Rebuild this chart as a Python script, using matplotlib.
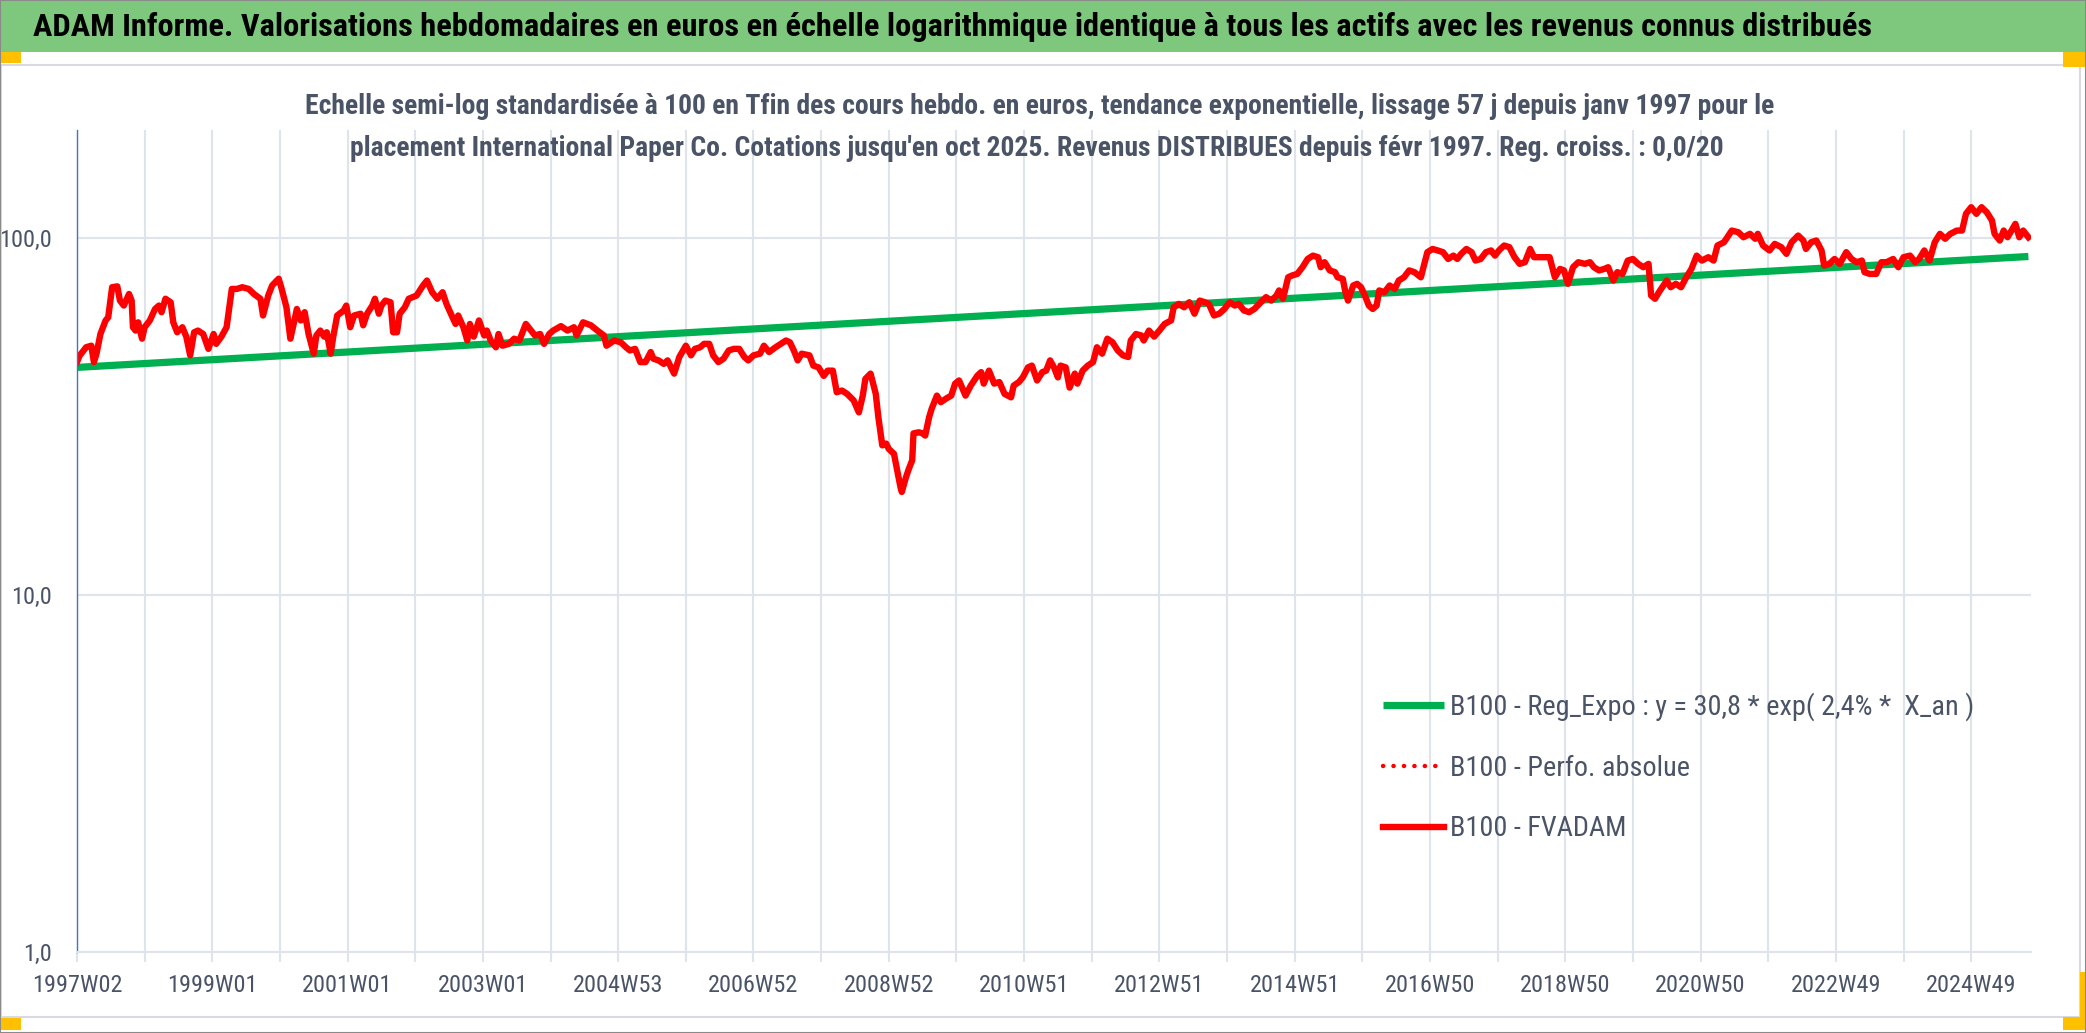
import matplotlib
matplotlib.use("Agg")
import matplotlib.pyplot as plt
from matplotlib import font_manager as fm
from matplotlib.patches import Rectangle
from matplotlib.ticker import NullLocator


def pick_font(names):
    for n in names:
        try:
            fm.findfont(fm.FontProperties(family=n), fallback_to_default=False)
            return n
        except ValueError:
            pass
    return "DejaVu Sans"


FONT = pick_font(["Liberation Sans Narrow", "Roboto Condensed", "Lato"])
plt.rcParams["font.family"] = [FONT, "DejaVu Sans"]

# ---- donnees (semaines depuis 1997W02, valeur base 100) ----
weeks = [0, 2, 7, 11, 13, 15, 18, 22, 24, 27, 31, 33, 36, 40, 42, 43, 45, 47, 50, 52,
         56, 60, 63, 65, 68, 72, 74, 77, 81, 84, 87, 90, 93, 97, 101, 105, 107, 111, 115, 119,
         123, 127, 132, 136, 141, 143, 147, 150, 155, 157, 161, 164, 166, 169, 172, 175, 178, 182, 184, 187,
         190, 192, 195, 197, 200, 205, 207, 210, 213, 218, 220, 223, 227, 229, 232, 234, 237, 241, 243, 246,
         248, 252, 255, 261, 266, 269, 273, 277, 281, 284, 288, 291, 293, 297, 300, 302, 305, 309, 313, 315,
         318, 322, 324, 327, 332, 336, 340, 345, 348, 352, 356, 359, 363, 366, 372, 377, 382, 384, 389, 395,
         400, 405, 407, 413, 418, 422, 425, 429, 433, 437, 441, 443, 447, 451, 454, 459, 463, 468, 472, 475,
         479, 482, 486, 489, 493, 497, 501, 505, 509, 513, 516, 520, 525, 528, 532, 537, 541, 545, 548, 551,
         554, 557, 563, 566, 570, 574, 577, 581, 584, 588, 592, 597, 601, 604, 606, 610, 614, 616, 619, 622,
         624, 628, 631, 633, 634, 637, 639, 642, 643, 647, 650, 652, 655, 657, 661, 664, 668, 672, 675, 678,
         683, 687, 692, 695, 697, 701, 705, 709, 713, 718, 720, 724, 727, 731, 734, 738, 742, 745, 748, 751,
         754, 756, 760, 763, 767, 769, 773, 777, 781, 784, 788, 792, 796, 800, 804, 808, 810, 814, 818, 820,
         824, 828, 832, 836, 841, 843, 847, 851, 855, 859, 863, 867, 870, 874, 878, 882, 886, 890, 893, 897,
         901, 905, 910, 914, 918, 922, 924, 927, 931, 934, 938, 942, 946, 950, 954, 956, 959, 963, 967, 969,
         973, 975, 977, 981, 984, 987, 990, 993, 996, 999, 1001, 1005, 1009, 1013, 1016, 1020, 1024, 1028, 1033, 1038,
         1042, 1046, 1050, 1054, 1058, 1061, 1064, 1068, 1072, 1075, 1079, 1083, 1087, 1090, 1093, 1097, 1101, 1105, 1109, 1113,
         1117, 1120, 1125, 1132, 1136, 1140, 1143, 1146, 1150, 1154, 1159, 1163, 1166, 1170, 1174, 1177, 1181, 1184, 1188, 1192,
         1196, 1200, 1204, 1208, 1210, 1213, 1216, 1222, 1225, 1229, 1233, 1237, 1241, 1245, 1249, 1254, 1258, 1261, 1266, 1272,
         1277, 1281, 1286, 1290, 1292, 1296, 1301, 1305, 1310, 1314, 1318, 1323, 1327, 1329, 1333, 1337, 1341, 1343, 1347, 1351,
         1355, 1360, 1364, 1368, 1372, 1374, 1378, 1383, 1387, 1391, 1396, 1400, 1404, 1409, 1413, 1416, 1420, 1424, 1428, 1432,
         1436, 1440, 1445, 1449, 1452, 1456, 1460, 1464, 1468, 1472, 1474, 1478, 1481, 1484, 1490, 1493, 1496, 1500]

fvadam = [44.8, 46.7, 49.3, 49.8, 44.8, 47.3, 53.7, 58.6, 59.8, 72.6, 73.0, 66.6, 64.5, 69.5, 66.6, 56.1, 54.9, 57.9, 52.1, 56.1,
          58.6, 63.1, 64.5, 61.8, 67.4, 65.9, 57.9, 54.3, 56.1, 52.8, 46.8, 54.3, 54.9, 53.7, 48.8, 53.7, 50.4, 52.8, 56.1, 71.8,
          71.8, 72.6, 71.8, 69.5, 67.4, 60.5, 68.8, 73.4, 76.7, 72.6, 63.8, 52.1, 56.1, 63.1, 58.6, 61.8, 53.7, 47.3, 53.2, 54.9,
          52.8, 54.3, 47.3, 52.8, 60.5, 62.5, 64.5, 56.1, 60.5, 61.2, 56.8, 61.2, 64.5, 67.4, 61.2, 64.5, 66.6, 65.9, 54.3, 54.3,
          61.2, 63.8, 67.4, 68.8, 73.4, 75.8, 70.3, 67.4, 70.3, 65.2, 60.5, 57.3, 60.5, 56.1, 51.5, 57.3, 52.8, 58.6, 53.2, 54.9,
          51.5, 49.3, 53.7, 49.8, 50.4, 52.1, 51.5, 57.3, 55.5, 53.2, 53.7, 50.4, 53.7, 54.9, 56.5, 54.9, 56.1, 53.2, 57.9, 56.8,
          54.9, 53.2, 49.8, 51.5, 50.9, 49.3, 48.3, 48.8, 44.8, 44.8, 47.8, 45.8, 45.3, 44.3, 45.3, 41.6, 46.3, 49.8, 46.8, 48.8,
          49.3, 50.4, 50.4, 46.8, 44.8, 45.8, 48.3, 48.8, 48.8, 46.3, 45.3, 46.8, 47.3, 49.8, 47.8, 49.3, 50.4, 51.5, 50.9, 48.3,
          45.3, 47.3, 46.8, 43.8, 43.3, 41.0, 42.4, 42.4, 36.9, 37.3, 36.5, 35.0, 32.4, 36.1, 40.2, 41.6, 36.5, 31.4, 26.2, 26.5,
          25.6, 24.8, 21.8, 20.0, 19.4, 21.2, 22.3, 23.8, 28.3, 28.5, 28.3, 27.9, 31.4, 33.2, 36.1, 34.6, 35.4, 36.1, 39.0, 39.8,
          36.1, 38.5, 41.0, 42.0, 39.0, 42.4, 39.0, 39.4, 36.5, 35.7, 38.5, 39.4, 40.6, 43.3, 43.8, 39.8, 42.0, 42.4, 45.3, 43.3,
          40.6, 43.8, 43.3, 38.0, 41.6, 39.0, 42.4, 43.8, 44.8, 49.3, 47.3, 52.1, 50.9, 48.3, 46.8, 46.3, 51.5, 53.7, 53.2, 51.5,
          54.9, 52.8, 54.9, 57.3, 58.6, 63.8, 65.2, 63.8, 65.9, 61.2, 66.6, 65.9, 65.2, 60.5, 61.2, 63.1, 65.9, 64.5, 65.2, 62.5,
          61.8, 63.1, 65.9, 68.1, 66.6, 68.8, 71.1, 67.4, 77.4, 78.3, 79.1, 82.6, 87.1, 89.0, 88.1, 82.6, 85.3, 80.9, 80.0, 77.4,
          76.6, 70.3, 66.6, 73.4, 74.2, 72.6, 68.8, 64.5, 63.1, 64.5, 71.1, 70.3, 73.4, 71.8, 75.8, 77.4, 80.9, 80.0, 77.4, 91.0,
          92.9, 92.0, 91.0, 87.1, 89.0, 87.1, 90.0, 92.9, 91.0, 86.2, 87.1, 91.0, 92.0, 89.0, 92.0, 95.0, 94.0, 88.1, 84.4, 85.3,
          92.9, 88.1, 88.1, 88.1, 77.4, 81.7, 80.9, 74.2, 82.6, 85.3, 84.4, 85.3, 82.6, 80.9, 81.7, 82.6, 75.8, 80.0, 79.1, 86.2,
          87.1, 84.4, 82.6, 84.4, 68.8, 67.4, 70.3, 75.8, 72.6, 74.2, 72.6, 77.4, 81.7, 89.0, 86.2, 88.1, 86.2, 95.0, 97.0, 104.6,
          103.5, 100.2, 102.4, 99.2, 102.4, 95.0, 92.0, 96.0, 94.0, 90.0, 97.0, 101.3, 98.1, 92.9, 97.0, 98.1, 92.0, 83.5, 84.4, 87.1,
          84.4, 91.0, 87.1, 85.3, 86.2, 80.0, 79.1, 79.1, 85.3, 85.3, 87.1, 82.6, 88.1, 89.0, 85.3, 87.1, 92.0, 86.2, 97.0, 102.4,
          99.2, 102.4, 104.6, 104.6, 116.5, 121.6, 116.5, 121.6, 117.7, 111.6, 102.4, 98.1, 104.6, 100.2, 109.2, 100.2, 104.6, 100.2]

# tendance exponentielle : extremites
trend_weeks = [0, 1500]
trend_vals = [43.3, 88.5]

tick_labels = ["1997W02", "1999W01", "2001W01", "2003W01", "2004W53", "2006W52", "2008W52",
               "2010W51", "2012W51", "2014W51", "2016W50", "2018W50", "2020W50", "2022W49", "2024W49"]

title = ("ADAM Informe. Valorisations hebdomadaires en euros en échelle logarithmique "
         "identique à tous les actifs avec les revenus connus distribués")
sub1 = ("Echelle semi-log standardisée à 100 en Tfin des cours hebdo. en euros, tendance "
        "exponentielle, lissage 57 j depuis janv 1997 pour le")
sub2 = ("placement International Paper Co. Cotations jusqu'en oct 2025. Revenus DISTRIBUES "
        "depuis févr 1997. Reg. croiss. : 0,0/20")

leg_labels = ["B100 - Reg_Expo : y = 30,8 * exp( 2,4% *  X_an )",
              "B100 - Perfo. absolue", "B100 - FVADAM"]

W, H = 2086, 1033
TXT = "#4a5466"
GRID = "#dfe3ea"

fig = plt.figure(figsize=(W / 100, H / 100), dpi=100)
r = fig.canvas.get_renderer()


def px(x, y):
    return x / W, 1 - y / H


def fit(t, width):
    w = t.get_window_extent(r).width
    t.set_fontsize(t.get_fontsize() * width / w)


# ---- cadre type Excel ----
fig.patches.append(Rectangle(px(0, 52), 1, 52 / H, transform=fig.transFigure,
                             facecolor="#7ec87e", edgecolor="none"))
fig.patches.append(Rectangle(px(1, 1017), 2079 / W, 952 / H, transform=fig.transFigure,
                             facecolor="none", edgecolor="#d9d9e0", lw=1.5))
for (x0, y0, w0, h0) in [(0, 52, 21, 11), (2063, 52, 23, 15), (0, 1018, 21, 12),
                         (2063, 1017, 23, 13), (2080, 972, 6, 50)]:
    fig.patches.append(Rectangle(px(x0, y0 + h0), w0 / W, h0 / H, transform=fig.transFigure,
                                 facecolor="#ffc000", edgecolor="none"))
fig.patches.append(Rectangle((0, 0), 1, 1, transform=fig.transFigure,
                             facecolor="none", edgecolor="#8a8a8a", lw=1.5))

t = fig.text(*px(33, 27), title, fontsize=22, fontweight="bold", color="black",
             ha="left", va="center")
fit(t, 1839)

s1 = fig.text(*px(1040, 107), sub1, fontsize=18, fontweight="bold", color=TXT,
              ha="center", va="center")
fit(s1, 1473)
s2 = fig.text(*px(1037, 148), sub2, fontsize=s1.get_fontsize(), fontweight="bold", color=TXT,
              ha="center", va="center")

# ---- axes ----
ax = fig.add_axes([77 / W, 1 - 952 / H, (2031 - 77) / W, (952 - 130) / H])
ax.set_yscale("log")
ax.set_ylim(1, 200)
ax.set_xlim(0, 1502)

ax.plot(trend_weeks, trend_vals, color="#00b050", lw=5.2, solid_capstyle="butt",
        label=leg_labels[0])
ax.plot([], [], color="#ff0000", lw=3.2, linestyle=(0, (0.05, 2.3)),
        dash_capstyle="round", label=leg_labels[1])
ax.plot(weeks, fvadam, color="#ff0000", lw=4.6, solid_joinstyle="round",
        label=leg_labels[2])

ax.set_yticks([1, 10, 100])
ax.set_yticklabels(["1,0", "10,0", "100,0"])
ax.yaxis.set_minor_locator(NullLocator())
xt = list(range(0, 1502, 52))
ax.set_xticks(xt)
ax.set_xticklabels([tick_labels[i // 2] if i % 2 == 0 else "" for i in range(len(xt))])

ax.grid(True, color=GRID, lw=1.5)
ax.set_axisbelow(True)
for sp in ["top", "right"]:
    ax.spines[sp].set_visible(False)
ax.spines["left"].set_color("#4472c4")
ax.spines["left"].set_linewidth(1.0)
ax.spines["bottom"].set_color(GRID)
ax.spines["bottom"].set_linewidth(1.5)
ax.tick_params(axis="y", length=0, pad=18, labelsize=17.5, labelcolor=TXT)
ax.tick_params(axis="x", length=7, width=1.5, color=GRID, pad=9, labelsize=17.5, labelcolor=TXT)

leg = fig.legend(loc="upper left", bbox_to_anchor=px(1383, 692), frameon=False,
                 fontsize=20.3, handlelength=2.15, handletextpad=0.22, labelspacing=1.2,
                 borderpad=0, borderaxespad=0, labelcolor=TXT)

fig.savefig("out.png", dpi=100)
